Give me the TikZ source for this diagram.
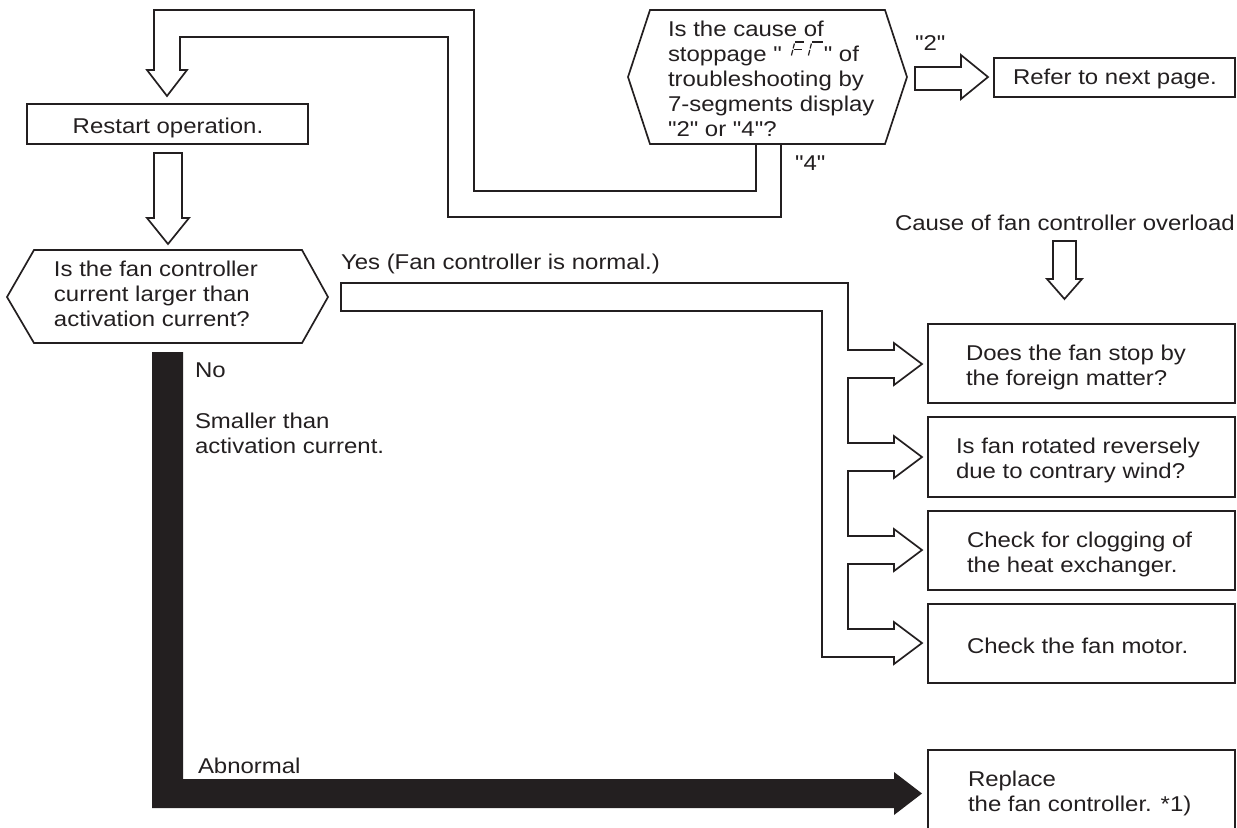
\documentclass[tikz,border=0pt]{standalone}
\usepackage{fontspec}
\setmainfont{Liberation Sans}[FakeStretch=1.12, Ligatures=TeXOff]
\usetikzlibrary{fit}
\definecolor{ink}{HTML}{231F20}
\begin{document}
\begin{tikzpicture}[x=0.5pt,y=-0.5pt,
  line width=0.85pt, color=ink, line join=miter,
  every node/.style={text=ink, font=\fontsize{10.7pt}{12.5pt}\selectfont, inner sep=0pt, outer sep=0pt},
  txt/.style={anchor=north west, align=left},
  stxt/.style={anchor=base west},
  boxn/.style={draw=ink, line width=0.85pt, inner sep=0pt},
  seg/.style={line width=0.6pt, line cap=butt},
]
\useasboundingbox (0,0) rectangle (1237,827);

% ---------- decision 1 ----------
\draw (628,77) -- (650,10) -- (885,10) -- (907,77) -- (885,144) -- (650,144) -- cycle;
\coordinate (q1) at (767,77);
\node[txt] (q1t) at (668,18.5) {\strut Is the cause of\\stoppage "\hspace*{21pt}" of\\troubleshooting by\\7-segments display\\"2" or "4"?};
% 7-segment glyph
\draw[seg] (795,42) -- (804,42);
\draw[seg] (794.4,43.5) -- (793.1,48.5);
\draw[seg] (792.8,50) -- (791.4,55.5);
\draw[seg] (793.6,49.2) -- (801.5,49.2);
\draw[seg] (812,42) -- (823,42);
\draw[seg] (811.4,43.5) -- (810.1,48.5);
\draw[seg] (809.8,50) -- (808.4,55.5);

% ---------- "2" branch ----------
\draw (915,67) -- (961,67) -- (961,55) -- (988,77) -- (961,99) -- (961,90) -- (915,90) -- cycle;
\node[stxt] (l2) at (915,50) {"2"};
\node[boxn, fit={(994,58) (1235,97)}] (ref) {};
\node[anchor=base] (reft) at (1115,84) {Refer to next page.};

% ---------- "4" branch (loop back) ----------
\draw (756,144) -- (756,191) -- (474,191) -- (474,10) -- (154,10) -- (154,70)
      -- (147,70) -- (167,96) -- (187,70) -- (180,70) -- (180,37) -- (448,37)
      -- (448,217) -- (781,217) -- (781,144);
\node[stxt] (l4) at (795,170) {"4"};

% ---------- restart ----------
\node[boxn, fit={(27,104) (308,144)}] (rs) {};
\node[anchor=base] (rst) at (168,133) {Restart operation.};
\draw (154,153) -- (154,218) -- (147,218) -- (168,244) -- (189,218) -- (182,218) -- (182,153) -- cycle;

% ---------- decision 2 ----------
\draw (7,297) -- (34,250) -- (302,250) -- (328,297) -- (302,343) -- (34,343) -- cycle;
\node[txt] (q2t) at (54,258.5) {\strut Is the fan controller\\current larger than\\activation current?};

% ---------- Yes branch ----------
\node[stxt] (lyes) at (341,269) {Yes (Fan controller is normal.)};
\draw (341,283) -- (848,283) -- (848,350) -- (894,350) -- (894,343) -- (922,364) -- (894,385) -- (894,378)
  -- (848,378) -- (848,443) -- (894,443) -- (894,436) -- (922,457) -- (894,478) -- (894,471)
  -- (848,471) -- (848,536) -- (894,536) -- (894,529) -- (922,550) -- (894,571) -- (894,564)
  -- (848,564) -- (848,629) -- (894,629) -- (894,622) -- (922,643) -- (894,664) -- (894,657)
  -- (822,657) -- (822,311) -- (341,311) -- cycle;

% ---------- cause of overload ----------
\node[stxt] (cause) at (895,230) {Cause of fan controller overload};
\draw (1053,241) -- (1053,279) -- (1047,279) -- (1064.5,299) -- (1082,279) -- (1076,279) -- (1076,241) -- cycle;

\node[boxn, fit={(928,324) (1235,403)}] (b1) {};
\node[txt] (b1t) at (966,342.5) {\strut Does the fan stop by\\the foreign matter?};
\node[boxn, fit={(928,417) (1235,497)}] (b2) {};
\node[txt] (b2t) at (956,435.5) {\strut Is fan rotated reversely\\due to contrary wind?};
\node[boxn, fit={(928,511) (1235,590)}] (b3) {};
\node[txt] (b3t) at (967,529.5) {\strut Check for clogging of\\the heat exchanger.};
\node[boxn, fit={(928,604) (1235,683)}] (b4) {};
\node[stxt] (b4t) at (967,653) {Check the fan motor.};

% ---------- No branch ----------
\node[stxt] (lno) at (195,377) {No};
\node[txt] (lsm) at (195,410.5) {\strut Smaller than\\activation current.};
\node[stxt] (lab) at (198,773) {Abnormal};
\fill[ink] (152,352) -- (183,352) -- (183,779) -- (894,779) -- (894,772) -- (922,793.5) -- (894,815) -- (894,808) -- (152,808) -- cycle;

\draw (928,840) -- (928,750) -- (1235,750) -- (1235,840);
\coordinate (b5) at (1081,790);
\node[txt] (b5t) at (968,768.5) {\strut Replace\\the fan controller. *1)};
\end{tikzpicture}
\end{document}
